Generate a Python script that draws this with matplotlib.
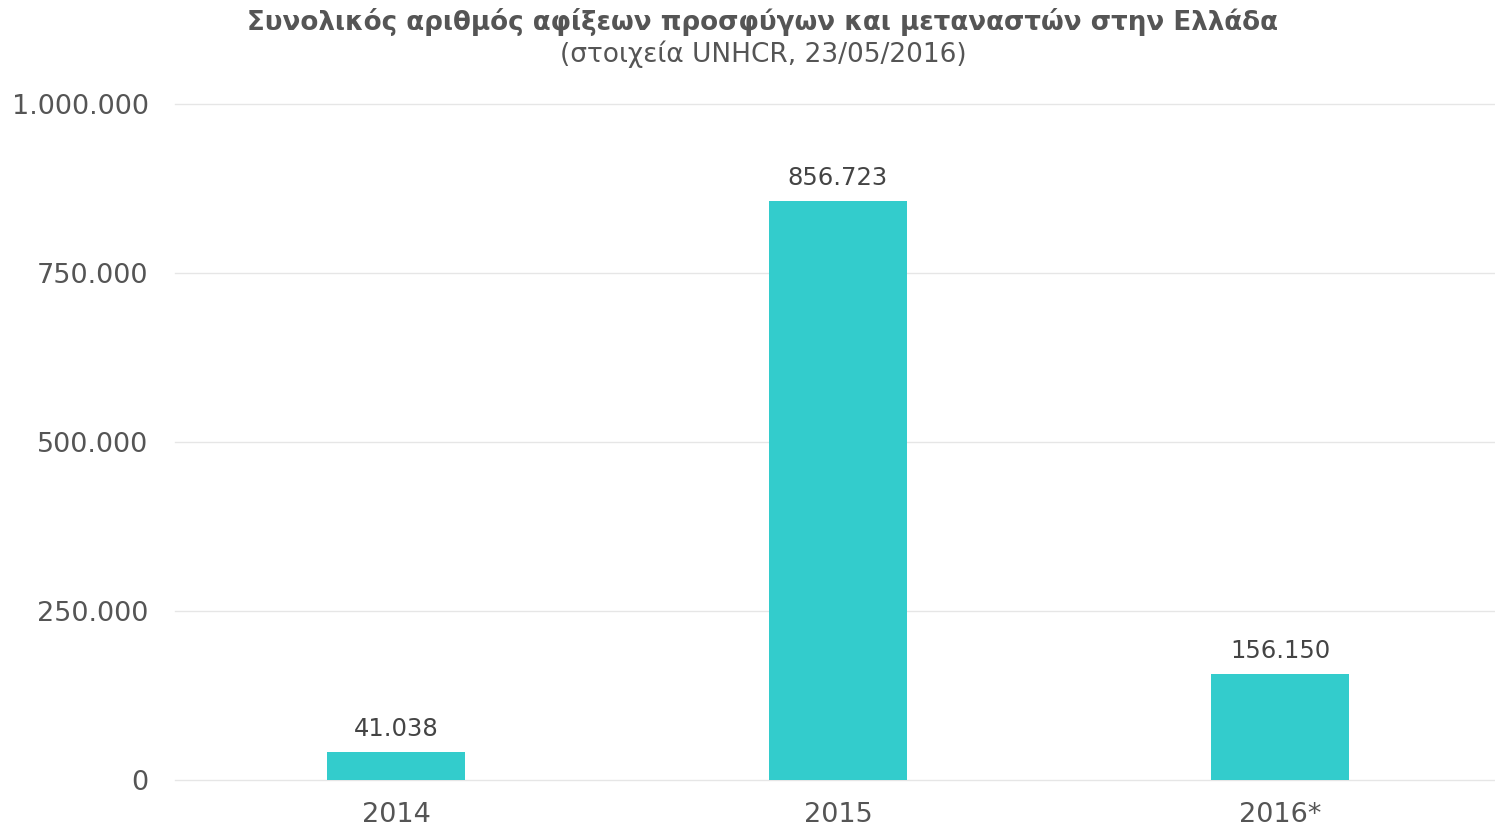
import numpy as np
import matplotlib.pyplot as plt
from matplotlib.ticker import FuncFormatter

years = ['2014', '2015', '2016*']
arrivals = [41038, 856723, 156150]
y_ticks = [0, 250000, 500000, 750000, 1000000]

title = 'Συνολικός αριθμός αφίξεων προσφύγων και μεταναστών στην Ελλάδα'
subtitle = '(στοιχεία UNHCR, 23/05/2016)'


def fmt_gr(v, pos=None):
    return f'{int(v):,}'.replace(',', '.')


plt.rcParams['font.family'] = ['DejaVu Sans']
text_color = '#555555'

fig = plt.figure(figsize=(14.95, 8.32), dpi=100)
ax = fig.add_axes([175/1495, 1 - 780/832, 1326/1495, (780 - 104)/832])

x = np.arange(len(years))
bars = ax.bar(x, arrivals, width=0.313, color='#33CCCC', zorder=3)

ax.set_xlim(-0.5, 2.5)
ax.set_ylim(0, 1000000)
ax.set_yticks(y_ticks)
ax.yaxis.set_major_formatter(FuncFormatter(fmt_gr))
ax.set_xticks(x)
ax.set_xticklabels(years)

ax.grid(axis='y', color='#e6e6e6', linewidth=1, zorder=0)
for line in ax.get_ygridlines():
    line.set_clip_on(False)
for s in ax.spines.values():
    s.set_visible(False)
ax.tick_params(axis='both', length=0, colors=text_color, labelsize=19.5)
ax.tick_params(axis='y', pad=19)
ax.tick_params(axis='x', pad=16)
ax.set_axisbelow(True)

for b, v in zip(bars, arrivals):
    ax.annotate(fmt_gr(v), (b.get_x() + b.get_width() / 2, v),
                xytext=(0, 8), textcoords='offset points',
                ha='center', va='bottom', fontsize=17.5, color='#444444')

fig.text(763/1495, 1 - 22/832, title, ha='center', va='center',
         fontsize=18.8, fontweight='bold', color=text_color)
fig.text(763/1495, 1 - 54/832, subtitle, ha='center', va='center',
         fontsize=19, color=text_color)

fig.savefig('out.png', dpi=100, facecolor='white')
